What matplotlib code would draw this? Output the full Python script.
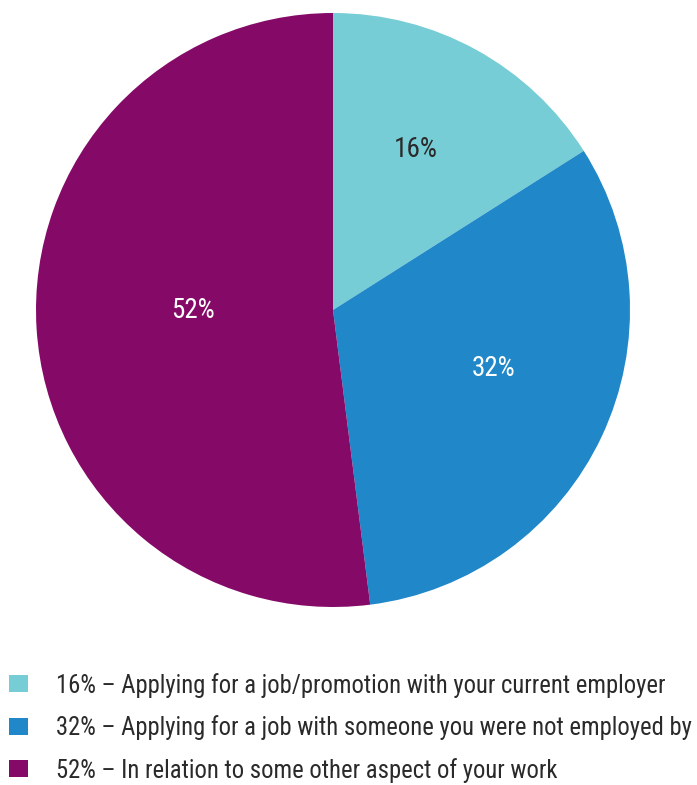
import matplotlib
matplotlib.use("Agg")
import matplotlib.pyplot as plt
from matplotlib.patches import Rectangle
from matplotlib import font_manager
from matplotlib.font_manager import FontProperties

# Shares of respondents by reason
shares = [16, 32, 52]
pct_labels = ["16%", "32%", "52%"]
legend_labels = [
    "16% \u2013 Applying for a job/promotion with your current employer",
    "32% \u2013 Applying for a job with someone you were not employed by",
    "52% \u2013 In relation to some other aspect of your work",
]
colors = ["#77CDD6", "#2087C8", "#850A68"]
label_colors = ["#2a2a2a", "#ffffff", "#ffffff"]
# label anchor points inside the pie (unit radius)
label_pos = [(0.278, 0.542), (0.542, -0.198), (-0.470, 0.0)]


def pick_narrow_font():
    """Return a condensed sans-serif font file if one is installed."""
    fonts = font_manager.fontManager.ttflist
    prefs = ["Liberation Sans Narrow", "Arial Narrow", "Roboto Condensed",
             "Open Sans Condensed", "DejaVu Sans Condensed"]
    for name in prefs:
        for f in fonts:
            if f.name == name and f.style == "normal" and f.weight in (400, "normal", "regular"):
                return f.fname
    for f in fonts:
        if ("Narrow" in f.name or "Condensed" in f.name or "Condensed" in f.fname
                or f.stretch in ("condensed", "semi-condensed")) and f.style == "normal":
            if "Bold" not in f.fname and "Oblique" not in f.fname and "Italic" not in f.fname:
                return f.fname
    return None


narrow = pick_narrow_font()
if narrow:
    fp_label = FontProperties(fname=narrow, size=19.5)
    fp_legend = FontProperties(fname=narrow, size=17.75)
else:
    fp_label = FontProperties(family="Liberation Sans", size=17)
    fp_legend = FontProperties(family="Liberation Sans", size=15)

W, H = 697, 785
fig = plt.figure(figsize=(W / 100, H / 100), dpi=100)

cx, cy, R = 333, 310, 297
ax = fig.add_axes([(cx - R) / W, 1 - (cy + R) / H, 2 * R / W, 2 * R / H])
wedges, _ = ax.pie(shares, colors=colors, startangle=90, counterclock=False,
                   radius=1, wedgeprops=dict(linewidth=0))
ax.set_xlim(-1, 1)
ax.set_ylim(-1, 1)
ax.set_aspect("equal")
ax.axis("off")

for txt, (x, y), c in zip(pct_labels, label_pos, label_colors):
    ax.text(x, y, txt, ha="center", va="center", fontproperties=fp_label, color=c)

# legend rows (baseline positions in pixels from the top)
baselines = [693, 735.5, 778]
for lab, col, b in zip(legend_labels, colors, baselines):
    sw, sh = 19, 17
    fig.add_artist(Rectangle((9 / W, 1 - (b - 1) / H), sw / W, sh / H,
                             transform=fig.transFigure, facecolor=col, edgecolor="none"))
    fig.text(56 / W, 1 - b / H, lab, ha="left", va="baseline",
             fontproperties=fp_legend, color="#2a2a2a")

fig.savefig("out.png", dpi=100)
